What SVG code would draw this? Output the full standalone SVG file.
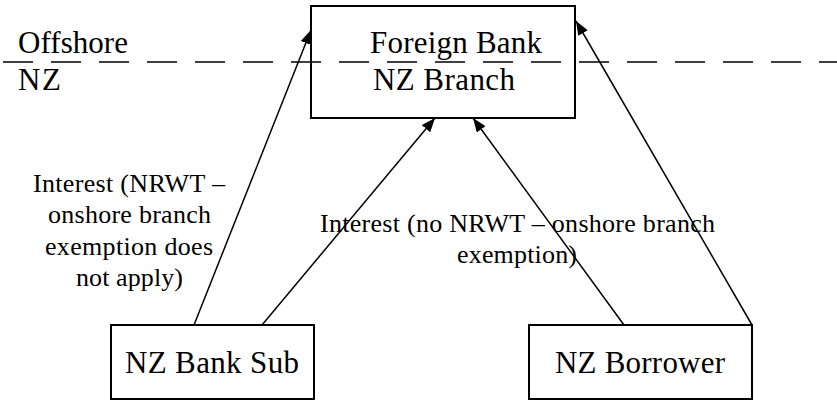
<svg xmlns="http://www.w3.org/2000/svg" width="837" height="401" viewBox="0 0 837 401">
  <style>
    .box { fill: none; stroke: #000; stroke-width: 2; }
    .t { font-family: "Liberation Serif", "Times New Roman", serif; fill: #000; }
    .node { font-size: 31px; }
    .lbl { font-size: 26px; }
    .edge { stroke: #000; stroke-width: 1.5; fill: none; marker-end: url(#head); }
    .border { stroke: #000; stroke-width: 1.5; stroke-dasharray: 30 18; }
  </style>
  <defs>
    <marker id="head" markerUnits="userSpaceOnUse" markerWidth="15" markerHeight="11" refX="14" refY="5.5" orient="auto">
      <path d="M0,0 L14,5.5 L0,11 z" fill="#000"/>
    </marker>
  </defs>
  <rect width="837" height="401" fill="#fff"/>

  <!-- jurisdiction boundary -->
  <g id="boundary">
    <line class="border" x1="3" y1="62" x2="837" y2="62"/>
    <text class="t node" x="18" y="53" textLength="110" lengthAdjust="spacing">Offshore</text>
    <text class="t node" x="18" y="90" textLength="43" lengthAdjust="spacing">NZ</text>
  </g>

  <g id="foreign-bank">
    <rect class="box" x="311" y="6" width="264" height="112"/>
    <text class="t node" x="370" y="53" textLength="172" lengthAdjust="spacing">Foreign Bank</text>
    <text class="t node" x="373" y="90" textLength="142" lengthAdjust="spacing">NZ Branch</text>
  </g>

  <g id="nz-bank-sub">
    <rect class="box" x="111" y="325" width="203" height="74"/>
    <text class="t node" x="125" y="373" textLength="174" lengthAdjust="spacing">NZ Bank Sub</text>
  </g>

  <g id="nz-borrower">
    <rect class="box" x="529" y="325" width="223" height="74"/>
    <text class="t node" x="555" y="373" textLength="170" lengthAdjust="spacing">NZ Borrower</text>
  </g>

  <g id="connectors">
    <line class="edge" x1="194" y1="325" x2="311" y2="30"/>
    <line class="edge" x1="262" y1="325" x2="435" y2="118"/>
    <line class="edge" x1="624" y1="325" x2="473" y2="118"/>
    <line class="edge" x1="752" y1="325" x2="576" y2="21"/>
  </g>

  <g id="labels">
    <text class="t lbl" x="33" y="192" textLength="192" lengthAdjust="spacing">Interest (NRWT –</text>
    <text class="t lbl" x="48" y="223" textLength="163" lengthAdjust="spacing">onshore branch</text>
    <text class="t lbl" x="45" y="255" textLength="168" lengthAdjust="spacing">exemption does</text>
    <text class="t lbl" x="76" y="286" textLength="107" lengthAdjust="spacing">not apply)</text>
    <text class="t lbl" x="320" y="232" textLength="395" lengthAdjust="spacing">Interest (no NRWT – onshore branch</text>
    <text class="t lbl" x="457" y="263" textLength="120" lengthAdjust="spacing">exemption)</text>
  </g>
</svg>
